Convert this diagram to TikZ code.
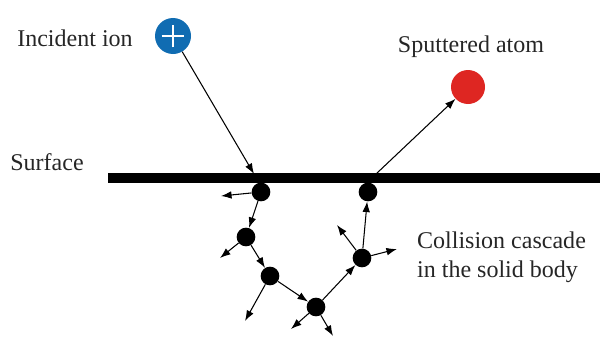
\documentclass[tikz,border=0pt]{standalone}
\usepackage{fontspec}
\setmainfont{Liberation Serif}
\usetikzlibrary{arrows.meta}

\definecolor{ionblue}{RGB}{16,108,178}
\definecolor{atomred}{RGB}{222,38,34}

\tikzset{
	atom/.style={circle,fill=black,inner sep=0pt,minimum size=0.56cm},
	kick/.style={-{Latex[length=9pt,width=6.5pt]},line width=0.9pt},
	txt/.style={font=\fontsize{20.5}{25}\selectfont,text=black!85}
}

\begin{document}
\begin{tikzpicture}[x=0.03cm,y=-0.03cm]
	\useasboundingbox (0,0) rectangle (600,336);

	% surface of the target
	\draw[line width=0.28cm] (108,178) -- (600,178);
	\node[txt] (surf) at (47,162) {Surface};

	% incoming ion
	\node[circle,fill=ionblue,minimum size=1.08cm,inner sep=0pt] (ion) at (173,36) {};
	\draw[white,line width=2.4pt] ([xshift=-0.34cm]ion.center) -- ([xshift=0.34cm]ion.center);
	\draw[white,line width=2.4pt] ([yshift=-0.34cm]ion.center) -- ([yshift=0.34cm]ion.center);
	\node[txt] (ionlbl) at (75,38) {Incident ion};
	\coordinate (hit) at (254,174);
	\draw[kick] (ion) -- (hit);

	% ejected atom
	\node[circle,fill=atomred,minimum size=1.02cm,inner sep=0pt] (sput) at (468,87) {};
	\node[txt] (sputlbl) at (471,47) {Sputtered atom};
	\coordinate (exit) at (376,174);
	\draw[kick] (exit) -- (sput);

	% the cascade below the surface
	\node[atom] (a1) at (261,192) {};
	\node[atom] (a2) at (246,237) {};
	\node[atom] (a3) at (270,276) {};
	\node[atom] (a4) at (316,307) {};
	\node[atom] (a5) at (362,258) {};
	\node[atom] (a6) at (368,192) {};

	\draw[kick] (a1) -- (a2);
	\draw[kick] (a2) -- (a3);
	\draw[kick] (a3) -- (a4);
	\draw[kick] (a4) -- (a5);
	\draw[kick] (a5) -- (a6);

	% recoils leaving the chain
	\coordinate (r1) at (221,196);
	\coordinate (r2) at (220,258);
	\coordinate (r3) at (245,321);
	\coordinate (r4) at (291,329);
	\coordinate (r5) at (333,336);
	\coordinate (r6) at (337,225);
	\coordinate (r7) at (397,249);
	\draw[kick] (a1) -- (r1);
	\draw[kick] (a2) -- (r2);
	\draw[kick] (a3) -- (r3);
	\draw[kick] (a4) -- (r4);
	\draw[kick] (a4) -- (r5);
	\draw[kick] (a5) -- (r6);
	\draw[kick] (a5) -- (r7);

	\node[txt,anchor=west,align=left] (casc) at (413,257) {Collision cascade\\in the solid body};
\end{tikzpicture}
\end{document}
